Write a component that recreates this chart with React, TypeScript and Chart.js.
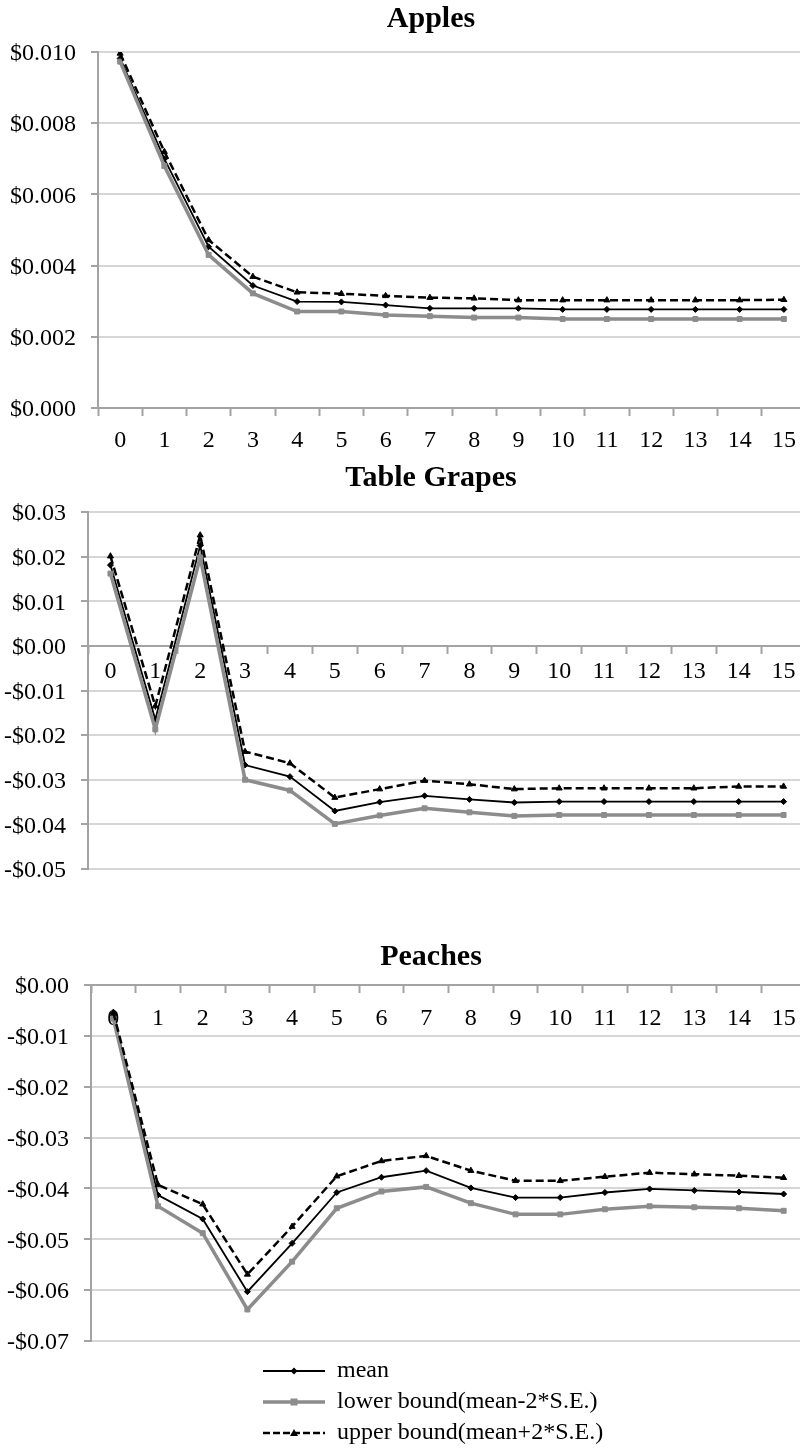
import React, { useEffect, useRef } from 'react';
import { Chart, registerables } from 'chart.js';

Chart.register(...registerables);

// ---------- data ----------
const categories = ['0', '1', '2', '3', '4', '5', '6', '7', '8', '9', '10', '11', '12', '13', '14', '15'];

const applesMean = [0.00982, 0.0070, 0.00453, 0.00344, 0.00299, 0.00298, 0.00289, 0.0028, 0.0028, 0.0028, 0.00277, 0.00277, 0.00277, 0.00277, 0.00277, 0.00277];
const applesLower = [0.00973, 0.0068, 0.0043, 0.00322, 0.00271, 0.00271, 0.00261, 0.00258, 0.00254, 0.00254, 0.0025, 0.0025, 0.0025, 0.0025, 0.0025, 0.0025];
const applesUpper = [0.00996, 0.0072, 0.00472, 0.00369, 0.00325, 0.00321, 0.00315, 0.0031, 0.00308, 0.00303, 0.00303, 0.00303, 0.00303, 0.00303, 0.00303, 0.00304];

const grapesMean = [0.0181, -0.0165, 0.0225, -0.0267, -0.0293, -0.037, -0.035, -0.0336, -0.0344, -0.0351, -0.0349, -0.0349, -0.0349, -0.0349, -0.0349, -0.0349];
const grapesLower = [0.0162, -0.0187, 0.0198, -0.03, -0.0324, -0.0399, -0.038, -0.0364, -0.0373, -0.0381, -0.0379, -0.0379, -0.0379, -0.0379, -0.0379, -0.0379];
const grapesUpper = [0.0201, -0.0135, 0.0248, -0.0237, -0.0263, -0.034, -0.0321, -0.0302, -0.031, -0.0321, -0.0319, -0.0319, -0.0319, -0.0319, -0.0315, -0.0315];

const peachesMean = [-0.006, -0.0413, -0.046, -0.0603, -0.0508, -0.0408, -0.0378, -0.0365, -0.0399, -0.0418, -0.0418, -0.0408, -0.0401, -0.0404, -0.0407, -0.0411];
const peachesLower = [-0.0066, -0.0435, -0.0488, -0.0638, -0.0544, -0.0439, -0.0406, -0.0397, -0.0429, -0.0451, -0.0451, -0.0441, -0.0435, -0.0437, -0.0439, -0.0444];
const peachesUpper = [-0.0054, -0.0393, -0.0431, -0.0569, -0.0475, -0.0376, -0.0346, -0.0336, -0.0365, -0.0385, -0.0385, -0.0377, -0.0369, -0.0372, -0.0375, -0.0379];

const seriesLabels = ['mean', 'lower bound(mean-2*S.E.)', 'upper bound(mean+2*S.E.)'];

// ---------- styles ----------
const FONT = "'Liberation Serif', 'Times New Roman', serif";
const AXIS = '#a3a3a3';
const GRID = '#d6d6d6';
const GRAY = '#8c8c8c';

type PanelProps = {
  title: string;
  mean: number[];
  lower: number[];
  upper: number[];
  min: number;
  max: number;
  step: number;
  decimals: number;
  top: number;
  height: number;
  axisX: number;
  xPad: number;
  titleTop: number;
  titleBottom: number;
  padBottom: number;
};

function fmt(v: number, d: number) {
  const n = Number(v);
  const s = Math.abs(n).toFixed(d);
  return (n < -1e-9 ? '-$' : '$') + s;
}

function Panel(p: PanelProps) {
  const ref = useRef<HTMLCanvasElement | null>(null);
  useEffect(() => {
    if (!ref.current) return;
    const chart = new Chart(ref.current, {
      type: 'line',
      data: {
        labels: categories,
        datasets: [
          {
            label: seriesLabels[0],
            data: p.mean,
            borderColor: '#000',
            backgroundColor: '#000',
            borderWidth: 1.8,
            pointStyle: 'rectRot',
            pointRadius: 3,
            pointBorderWidth: 1,
            order: 3,
          },
          {
            label: seriesLabels[1],
            data: p.lower,
            borderColor: GRAY,
            backgroundColor: GRAY,
            borderWidth: 3.5,
            pointStyle: 'rect',
            pointRadius: 3.5,
            pointBorderWidth: 1,
            order: 2,
          },
          {
            label: seriesLabels[2],
            data: p.upper,
            borderColor: '#000',
            backgroundColor: '#000',
            borderWidth: 2.5,
            borderDash: [8, 4],
            pointStyle: 'triangle',
            pointRadius: 3.5,
            pointBorderWidth: 1,
            order: 1,
          },
        ],
      },
      options: {
        animation: false,
        responsive: false,
        layout: { padding: { left: 0, right: 0, top: 0, bottom: p.padBottom } },
        plugins: {
          legend: { display: false },
          tooltip: { enabled: false },
          title: {
            display: true,
            text: p.title,
            color: '#000',
            font: { family: FONT, size: 30, weight: 'bold' },
            padding: { top: p.titleTop, bottom: p.titleBottom },
          },
        },
        scales: {
          x: {
            type: 'category',
            position: { y: 0 },
            offset: true,
            grid: {
              offset: true,
              drawOnChartArea: false,
              drawTicks: true,
              tickLength: 7,
              tickColor: AXIS,
              tickWidth: 2,
            },
            border: { display: true, color: AXIS, width: 2 },
            ticks: {
              autoSkip: false,
              maxRotation: 0,
              padding: p.xPad,
              color: '#000',
              font: { family: FONT, size: 24 },
            },
          },
          y: {
            type: 'linear',
            min: p.min,
            max: p.max,
            afterFit: (scale: any) => {
              scale.width = p.axisX;
            },
            grid: {
              color: GRID,
              lineWidth: 2,
              drawTicks: true,
              tickLength: 7,
              tickColor: AXIS,
              tickWidth: 2,
            },
            border: { display: true, color: AXIS, width: 2 },
            ticks: {
              stepSize: p.step,
              padding: 15,
              labelOffset: 2,
              color: '#000',
              font: { family: FONT, size: 24 },
              callback: (v: any) => fmt(Number(v), p.decimals),
            },
          },
          spacer: {
            type: 'linear',
            position: 'right',
            display: true,
            afterFit: (scale: any) => {
              scale.width = 56;
            },
            grid: { display: false, drawTicks: false },
            border: { display: false },
            ticks: { display: false },
          },
        },
      } as any,
    });
    return () => chart.destroy();
  }, []);
  return (
    <canvas
      ref={ref}
      width={862}
      height={p.height}
      style={{ position: 'absolute', left: 0, top: p.top, width: 862, height: p.height }}
    />
  );
}

const LEGEND_BOX = 62;

const legendMarkers = {
  id: 'legendMarkers',
  afterDraw(chart: any) {
    const lg = chart.legend;
    if (!lg || !lg.legendHitBoxes) return;
    const ctx = chart.ctx;
    lg.legendHitBoxes.forEach((hb: any, i: number) => {
      const cx = hb.left + LEGEND_BOX / 2;
      const cy = hb.top + 12;
      ctx.save();
      if (i === 0) {
        ctx.fillStyle = '#000';
        ctx.beginPath();
        ctx.moveTo(cx, cy - 3.5);
        ctx.lineTo(cx + 3.5, cy);
        ctx.lineTo(cx, cy + 3.5);
        ctx.lineTo(cx - 3.5, cy);
        ctx.closePath();
        ctx.fill();
      } else if (i === 1) {
        ctx.fillStyle = GRAY;
        ctx.fillRect(cx - 3.5, cy - 3.5, 7, 7);
      } else {
        ctx.strokeStyle = '#000';
        ctx.lineWidth = 2.5;
        ctx.setLineDash([7, 3]);
        ctx.beginPath();
        ctx.moveTo(hb.left, cy);
        ctx.lineTo(hb.left + LEGEND_BOX, cy);
        ctx.stroke();
        ctx.setLineDash([]);
        ctx.fillStyle = '#000';
        ctx.beginPath();
        ctx.moveTo(cx, cy - 4);
        ctx.lineTo(cx + 4, cy + 3);
        ctx.lineTo(cx - 4, cy + 3);
        ctx.closePath();
        ctx.fill();
      }
      ctx.restore();
    });
  },
};

function LegendChart() {
  const ref = useRef<HTMLCanvasElement | null>(null);
  useEffect(() => {
    if (!ref.current) return;
    const chart = new Chart(ref.current, {
      type: 'line',
      data: {
        labels: [],
        datasets: [
          { label: seriesLabels[0], data: [], borderColor: '#000', backgroundColor: '#000', borderWidth: 1.8, pointStyle: 'line' },
          { label: seriesLabels[1], data: [], borderColor: GRAY, backgroundColor: GRAY, borderWidth: 3.5, pointStyle: 'line' },
          { label: seriesLabels[2], data: [], borderColor: '#000', backgroundColor: '#000', borderWidth: 0, borderDash: [7, 3], pointStyle: 'line' },
        ],
      },
      options: {
        animation: false,
        responsive: false,
        layout: { padding: 0 },
        plugins: {
          tooltip: { enabled: false },
          title: { display: false },
          legend: {
            display: true,
            position: 'left',
            align: 'start',
            maxWidth: 420,
            labels: {
              usePointStyle: true,
              pointStyleWidth: LEGEND_BOX,
              padding: 7,
              color: '#000',
              font: { family: FONT, size: 24 },
            },
          },
        },
        scales: { x: { display: false }, y: { display: false } },
      } as any,
      plugins: [legendMarkers],
    });
    return () => chart.destroy();
  }, []);
  return (
    <canvas
      ref={ref}
      width={544}
      height={140}
      style={{ position: 'absolute', left: 256, top: 1352, width: 544, height: 140 }}
    />
  );
}

export default function App() {
  return (
    <div
      style={{
        position: 'absolute',
        left: 0,
        top: 0,
        width: 800,
        height: 1450,
        overflow: 'hidden',
        background: '#fff',
      }}
    >
      <Panel
        title="Apples"
        mean={applesMean}
        lower={applesLower}
        upper={applesUpper}
        min={0}
        max={0.01}
        step={0.002}
        decimals={3}
        top={0}
        height={460}
        axisX={98}
        xPad={11}
        titleTop={1}
        titleBottom={15}
        padBottom={52}
      />
      <Panel
        title="Table Grapes"
        mean={grapesMean}
        lower={grapesLower}
        upper={grapesUpper}
        min={-0.05}
        max={0.03}
        step={0.01}
        decimals={2}
        top={460}
        height={439}
        axisX={88}
        xPad={4}
        titleTop={0}
        titleBottom={16}
        padBottom={30}
      />
      <Panel
        title="Peaches"
        mean={peachesMean}
        lower={peachesLower}
        upper={peachesUpper}
        min={-0.07}
        max={0}
        step={0.01}
        decimals={2}
        top={910}
        height={461}
        axisX={91}
        xPad={12}
        titleTop={29}
        titleBottom={10}
        padBottom={30}
      />
      <LegendChart />
    </div>
  );
}
